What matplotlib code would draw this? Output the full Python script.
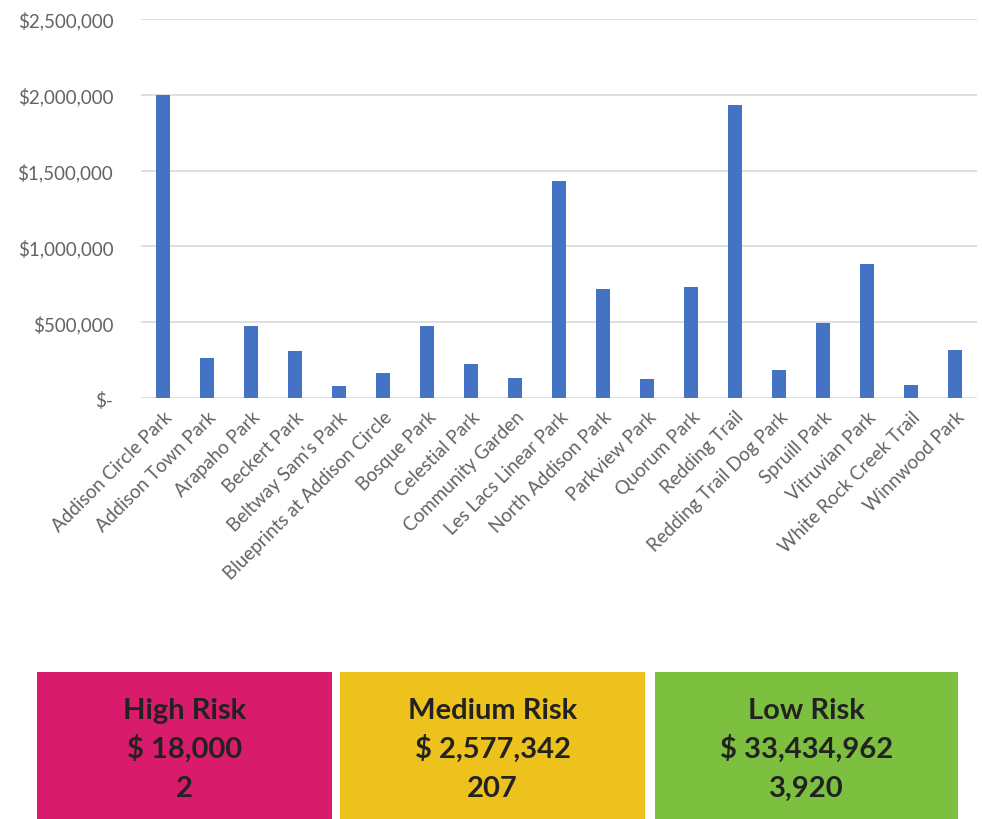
import matplotlib.pyplot as plt
from matplotlib.patches import Rectangle
from matplotlib.ticker import FuncFormatter

plt.rcParams['font.family'] = ['Lato', 'DejaVu Sans']

# Park names and values
parks = ["Addison Circle Park", "Addison Town Park", "Arapaho Park", "Beckert Park",
         "Beltway Sam's Park", "Blueprints at Addison Circle", "Bosque Park",
         "Celestial Park", "Community Garden", "Les Lacs Linear Park",
         "North Addison Park", "Parkview Park", "Quorum Park", "Redding Trail",
         "Redding Trail Dog Park", "Spruill Park", "Vitruvian Park",
         "White Rock Creek Trail", "Winnwood Park"]
values = [2000000, 262000, 478000, 309000, 77000, 163000, 478000, 227000, 132000,
          1432000, 720000, 124000, 732000, 1930000, 185000, 494000, 881000, 88000, 317000]

# Risk summary boxes
risk_labels = ["High Risk", "Medium Risk", "Low Risk"]
risk_amounts = ["$ 18,000", "$ 2,577,342", "$ 33,434,962"]
risk_counts = ["2", "207", "3,920"]
risk_colors = ["#D81B6A", "#EEC21C", "#7DBF3F"]

fig = plt.figure(figsize=(9.82, 8.2), dpi=100)
ax = fig.add_axes([0.1436, 0.5134, 0.8514, 0.4622])

x = range(len(parks))
ax.bar(x, values, width=0.32, color="#4472C4", zorder=3)
ax.set_xlim(-0.5, len(parks) - 0.5)
ax.set_ylim(0, 2500000)
ax.set_yticks([0, 500000, 1000000, 1500000, 2000000, 2500000])
ax.yaxis.set_major_formatter(FuncFormatter(lambda v, p: "$-" if v == 0 else "${:,.0f}".format(v)))
ax.grid(axis="y", color="#D9D9D9", linewidth=1.2, zorder=0)
for s in ax.spines.values():
    s.set_visible(False)
ax.tick_params(axis="y", length=0, pad=20, labelsize=13.5, labelcolor="#636363")
ax.tick_params(axis="x", length=0, pad=7, labelsize=13.5, labelcolor="#636363")
ax.set_xticks(list(x))
ax.set_xticklabels(parks, rotation=45, ha="right", va="top", rotation_mode="anchor")

box_x = [(37, 332), (340, 645), (655, 958)]
for (x0, x1), lab, amt, cnt, col in zip(box_x, risk_labels, risk_amounts, risk_counts, risk_colors):
    fx0 = x0 / 982
    fw = (x1 - x0) / 982
    fig.patches.append(Rectangle((fx0, 0), fw, (820 - 673) / 820, transform=fig.transFigure,
                                 facecolor=col, edgecolor="none"))
    cx = fx0 + fw / 2
    for txt, fy in zip([lab, amt, cnt], [1 - 711 / 820, 1 - 749 / 820, 1 - 789 / 820]):
        fig.text(cx, fy, txt, ha="center", va="center", fontsize=21,
                 fontweight="bold", color="#222222")

fig.savefig("out.png", dpi=100)
